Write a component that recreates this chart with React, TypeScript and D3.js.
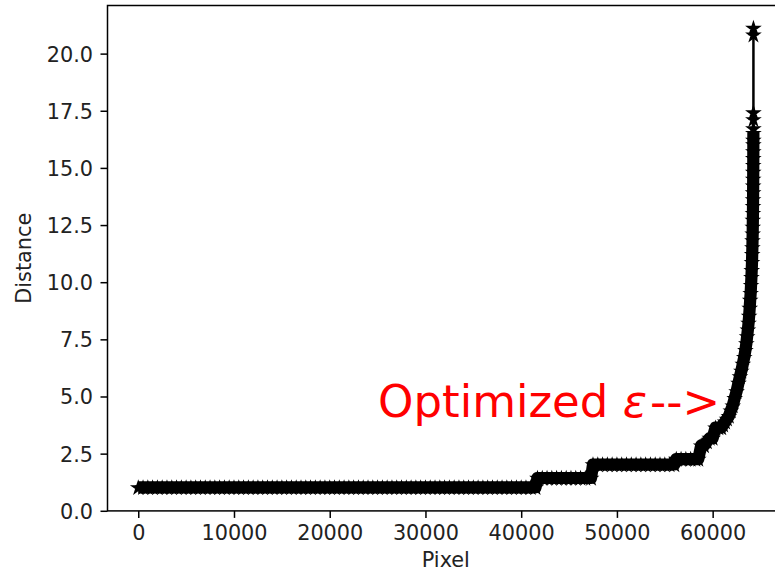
import React, { useEffect, useRef } from "react";
import * as d3 from "d3";

// sorted k-distance per pixel
const pixelIndex = [
	0, 500, 1000, 1500, 2000, 2500, 3000, 3500, 4000, 4500, 5000, 5500, 6000, 6500, 7000, 7500,
	8000, 8500, 9000, 9500, 10000, 10500, 11000, 11500, 12000, 12500, 13000, 13500, 14000, 14500,
	15000, 15500, 16000, 16500, 17000, 17500, 18000, 18500, 19000, 19500, 20000, 20500, 21000,
	21500, 22000, 22500, 23000, 23500, 24000, 24500, 25000, 25500, 26000, 26500, 27000, 27500,
	28000, 28500, 29000, 29500, 30000, 30500, 31000, 31500, 32000, 32500, 33000, 33500, 34000,
	34500, 35000, 35500, 36000, 36500, 37000, 37500, 38000, 38500, 39000, 39500, 40000, 40500,
	41000, 41500,
	41700, 42200, 42700, 43200, 43700, 44200, 44700, 45200, 45700, 46200, 46700, 47300,
	47500, 48000, 48500, 49000, 49500, 50000, 50500, 51000, 51500, 52000, 52500, 53000, 53500,
	54000, 54500, 55000, 55500, 56000,
	56200, 56700, 57200, 57700, 58200, 58500,
	58800, 59100, 59400, 59700, 60000, 60300, 60600, 60900, 61100, 61300, 61500, 61700, 61900,
	62100, 62300, 62500, 62700, 62850, 63000, 63150, 63300, 63420, 63520, 63600, 63680, 63750,
	63810, 63870, 63920, 63970, 64010, 64050, 64080, 64110, 64130, 64150, 64165, 64180, 64190,
	64200, 64210, 64215, 64220, 64225, 64230, 64235, 64238, 64241, 64244, 64247, 64250, 64252,
	64254, 64256, 64257, 64258, 64259, 64260,
];
const distance = [
	1, 1, 1, 1, 1, 1, 1, 1, 1, 1, 1, 1, 1, 1, 1, 1,
	1, 1, 1, 1, 1, 1, 1, 1, 1, 1, 1, 1, 1, 1,
	1, 1, 1, 1, 1, 1, 1, 1, 1, 1, 1, 1, 1,
	1, 1, 1, 1, 1, 1, 1, 1, 1, 1, 1, 1, 1,
	1, 1, 1, 1, 1, 1, 1, 1, 1, 1, 1, 1, 1,
	1, 1, 1, 1, 1, 1, 1, 1, 1, 1, 1, 1, 1,
	1, 1,
	1.41, 1.41, 1.41, 1.41, 1.41, 1.41, 1.41, 1.41, 1.41, 1.41, 1.41, 1.41,
	2, 2, 2, 2, 2, 2, 2, 2, 2, 2, 2, 2, 2,
	2, 2, 2, 2, 2,
	2.24, 2.24, 2.24, 2.24, 2.24, 2.24,
	2.83, 2.83, 3.0, 3.16, 3.16, 3.61, 3.61, 3.61, 3.74, 3.87, 4.0, 4.12, 4.36,
	4.58, 4.9, 5.2, 5.57, 5.85, 6.1, 6.4, 6.7, 7.0, 7.3, 7.6, 7.9, 8.2,
	8.5, 8.85, 9.2, 9.5, 9.85, 10.2, 10.5, 10.85, 11.2, 11.5, 11.8, 12.1, 12.4,
	12.7, 13.0, 13.3, 13.6, 13.9, 14.2, 14.5, 14.8, 15.1, 15.4, 15.7, 16.0, 16.2,
	16.5, 16.7, 17.1, 17.4, 20.8, 21.1,
];
// above this the stars stand apart instead of merging into one band
const denseRunEnd = 16.5;
const xTicks = [0, 10000, 20000, 30000, 40000, 50000, 60000];
const yTicks = [0, 2.5, 5, 7.5, 10, 12.5, 15, 17.5, 20];

const W = 775;
const H = 571;
const FONT = "'DejaVu Sans', sans-serif";

const App = () => {
	const ref = useRef<SVGSVGElement>(null);

	useEffect(() => {
		const svg = d3.select(ref.current);
		const left = 107.5;
		const right = 784.2;
		const top = 5.5;
		const bottom = 510.9;

		// matplotlib style 5% margins
		const xMax = d3.max(pixelIndex) as number;
		const yMax = d3.max(distance) as number;
		const yMin = d3.min(distance) as number;
		const x = d3
			.scaleLinear()
			.domain([-0.05 * xMax, xMax * 1.05])
			.range([left, right]);
		// lower limit lands right at 0 in the reference
		const y = d3
			.scaleLinear()
			.domain([-0.005, yMax + (yMax - yMin) * 0.05])
			.range([bottom, top]);

		const data = pixelIndex.map((p, i) => ({ p, d: distance[i] }));
		const line = d3
			.line<{ p: number; d: number }>()
			.x((d) => x(d.p))
			.y((d) => y(d.d));

		const r = 5.7;
		const plot = svg.append("g");

		// tens of thousands of overlapping stars melt into a solid band
		// (star tip reaches higher than its lower points, so nudge it up)
		plot
			.append("path")
			.datum(data.filter((d) => d.d <= denseRunEnd))
			.attr("transform", "translate(0,-0.55)")
			.attr("fill", "none")
			.attr("stroke", "black")
			.attr("stroke-width", 12.2)
			.attr("stroke-linejoin", "round")
			.attr("d", line);

		plot
			.append("path")
			.datum(data)
			.attr("fill", "none")
			.attr("stroke", "black")
			.attr("stroke-width", 2.5)
			.attr("d", line);

		const star = d3.symbol().type(d3.symbolStar).size((r * r) / 0.8908130915292852);
		plot
			.selectAll("path.star")
			.data(data)
			.enter()
			.append("path")
			.attr("class", "star")
			.attr("d", star)
			.attr("transform", (d) => "translate(" + x(d.p) + "," + y(d.d) + ")")
			.attr("fill", "black")
			.attr("stroke", "black")
			.attr("stroke-width", 1.9);

		// frame
		svg
			.append("rect")
			.attr("x", left)
			.attr("y", top)
			.attr("width", right - left)
			.attr("height", bottom - top)
			.attr("fill", "none")
			.attr("stroke", "black")
			.attr("stroke-width", 1.5);

		const xAxis = svg
			.append("g")
			.attr("transform", "translate(0," + bottom + ")")
			.call(
				d3
					.axisBottom(x)
					.tickValues(xTicks)
					.tickSize(7)
					.tickPadding(7)
					.tickFormat((d) => String(d))
			);
		xAxis.select(".domain").remove();
		xAxis.selectAll("line").attr("stroke", "black").attr("stroke-width", 1.5);
		xAxis
			.selectAll("text")
			.attr("fill", "#222")
			.attr("font-family", FONT)
			.attr("font-size", 20.8)
			.attr("dy", "0.75em");

		const yAxis = svg
			.append("g")
			.attr("transform", "translate(" + left + ",0)")
			.call(
				d3
					.axisLeft(y)
					.tickValues(yTicks)
					.tickSize(7)
					.tickPadding(7.5)
					.tickFormat(d3.format(".1f"))
			);
		yAxis.select(".domain").remove();
		yAxis.selectAll("line").attr("stroke", "black").attr("stroke-width", 1.5);
		yAxis
			.selectAll("text")
			.attr("fill", "#222")
			.attr("font-family", FONT)
			.attr("font-size", 20.8)
			.attr("dy", "0.36em");

		svg
			.append("text")
			.attr("x", (left + right) / 2)
			.attr("y", 567)
			.attr("text-anchor", "middle")
			.attr("font-family", FONT)
			.attr("font-size", 20.8)
			.attr("fill", "#222")
			.text("Pixel");

		svg
			.append("text")
			.attr("transform", "translate(31," + (top + bottom) / 2 + ") rotate(-90)")
			.attr("text-anchor", "middle")
			.attr("font-family", FONT)
			.attr("font-size", 20.8)
			.attr("fill", "#222")
			.text("Distance");

		const note = svg
			.append("text")
			.attr("x", 378)
			.attr("y", 417)
			.attr("font-family", FONT)
			.attr("font-size", 45)
			.attr("fill", "red");
		note.append("tspan").text("Optimized ");
		note.append("tspan").attr("font-style", "italic").text("ε");
		note.append("tspan").attr("dx", 3).text("-->");

		return () => {
			svg.selectAll("*").remove();
		};
	}, []);

	return (
		<svg
			ref={ref}
			width={W}
			height={H}
			style={{ position: "absolute", left: 0, top: 0, background: "white" }}
		></svg>
	);
};

export default App;
